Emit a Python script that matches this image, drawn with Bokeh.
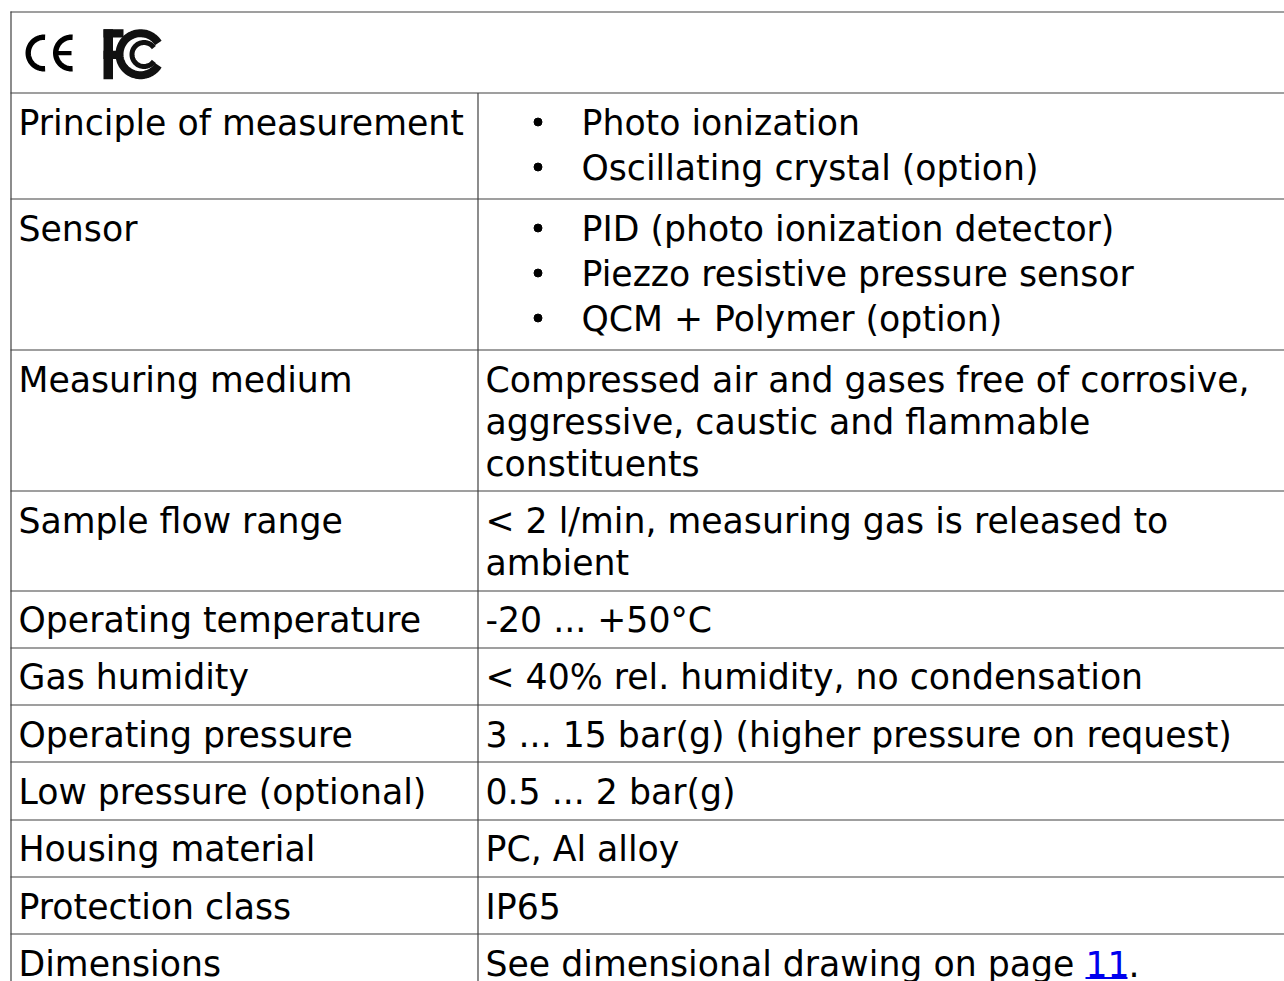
import numpy as np
from bokeh.plotting import figure
from bokeh.models import Range1d
from bokeh.core.properties import value
from bokeh.embed import file_html
from bokeh.resources import INLINE

# ---- table content ----
labels = ["Principle of measurement", "Sensor", "Measuring medium", "Sample flow range",
          "Operating temperature", "Gas humidity", "Operating pressure",
          "Low pressure (optional)", "Housing material", "Protection class", "Dimensions"]
values = [
    ["Photo ionization", "Oscillating crystal (option)"],
    ["PID (photo ionization detector)", "Piezzo resistive pressure sensor", "QCM + Polymer (option)"],
    ["Compressed air and gases free of corrosive,", "aggressive, caustic and flammable", "constituents"],
    ["< 2 l/min, measuring gas is released to", "ambient"],
    ["-20 ... +50°C"],
    ["< 40% rel. humidity, no condensation"],
    ["3 ... 15 bar(g) (higher pressure on request)"],
    ["0.5 ... 2 bar(g)"],
    ["PC, Al alloy"],
    ["IP65"],
    ["See dimensional drawing on page "],
]
bulleted = [True, True, False, False, False, False, False, False, False, False, False]
link_text = "11"
link_after = "."

# ---- layout (pixels) ----
W, H = 1284, 981
FONT = value("DejaVu Sans")
FS = "34.7px"
LINE_COL = "#404040"
left_x = 10
div_x = 477
right_edge = 1300
top_y = 11
logo_h = 81
plain_base, plain_step = 57.3, 42
bullet_base, bullet_step = 61, 45
base_off = 41.5
TXT_DY = -11.5   # renderer places text lower than the requested baseline

p = figure(width=W, height=H, x_range=Range1d(0, W), y_range=Range1d(H, 0),
           output_backend="svg", toolbar_location=None, min_border=0,
           x_axis_type=None, y_axis_type=None, outline_line_color=None)
p.grid.visible = False
p.background_fill_color = "white"
p.border_fill_color = "white"

# row boundaries
tops = [top_y, top_y + logo_h]
for vals, b in zip(values, bulleted):
    n = len(vals)
    h = (bullet_base + bullet_step * (n - 1)) if b else (plain_base + plain_step * (n - 1))
    tops.append(tops[-1] + h)

# horizontal lines
hy = [round(t) + 0.5 for t in tops]
p.segment(x0=[left_x] * len(hy), y0=hy, x1=[right_edge] * len(hy), y1=hy,
          line_color=LINE_COL, line_width=1.2)
# vertical lines
p.segment(x0=[left_x + 0.5], y0=[top_y], x1=[left_x + 0.5], y1=[H + 20],
          line_color=LINE_COL, line_width=1.2)
p.segment(x0=[div_x + 0.5], y0=[hy[1]], x1=[div_x + 0.5], y1=[H + 20],
          line_color=LINE_COL, line_width=1.2)

# texts
lx, ly, lt = [], [], []
vx, vy, vt = [], [], []
bx, by = [], []
for i, (lab, vals, b) in enumerate(zip(labels, values, bulleted)):
    rt = tops[i + 1]
    lx.append(18); ly.append(rt + base_off + TXT_DY); lt.append(lab)
    step = bullet_step if b else plain_step
    for j, v in enumerate(vals):
        yb = rt + base_off + j * step
        if b:
            bx.append(537.5); by.append(yb - 12)
            vx.append(581)
        else:
            vx.append(485)
        vy.append(yb + TXT_DY); vt.append(v)

p.text(x=lx, y=ly, text=lt, text_font=FONT, text_font_size=FS, text_color="black",
       text_baseline="alphabetic", text_align="left")
p.text(x=vx, y=vy, text=vt, text_font=FONT, text_font_size=FS, text_color="black",
       text_baseline="alphabetic", text_align="left")
p.scatter(x=bx, y=by, size=8, marker="circle", fill_color="black", line_color="black")

# link "11" and final period in the last row
yl = tops[-2] + base_off
p.text(x=[1085], y=[yl + TXT_DY], text=[link_text], text_font=FONT, text_font_size=FS,
       text_color="#0000ee", text_baseline="alphabetic", text_align="left")
p.segment(x0=[1085], y0=[yl + 2.5], x1=[1127], y1=[yl + 2.5], line_color="#0000ee", line_width=2)
p.text(x=[1128], y=[yl + TXT_DY], text=[link_after], text_font=FONT, text_font_size=FS,
       text_color="black", text_baseline="alphabetic", text_align="left")

# ---- logos (CE, FCC) ----
def arc_pts(cx, cy, r, a0, a1, n=60):
    t = np.radians(np.linspace(a0, a1, n))
    return cx + r * np.cos(t), cy - r * np.sin(t)

for cx in (43.5, 71):
    xs, ys = arc_pts(cx, 52.5, 15.8, 86, 274)
    p.line(xs, ys, line_color="black", line_width=5.4, line_cap="butt")
p.quad(left=[55], right=[71], top=[50.5], bottom=[54.7], fill_color="black", line_color=None)

# F
p.quad(left=[103, 103, 103], right=[112.5, 123, 122], top=[28.7, 28.7, 50.3], bottom=[78.7, 37, 58.5],
       fill_color="#111111", line_color=None)
# outer and inner C
xs, ys = arc_pts(140, 53.7, 21, 32, 328)
p.line(xs, ys, line_color="#111111", line_width=8, line_cap="butt")
xs, ys = arc_pts(143.5, 54, 12, 35, 325)
p.line(xs, ys, line_color="#111111", line_width=5, line_cap="butt")

open("out.html", "w").write(file_html(p, INLINE))
